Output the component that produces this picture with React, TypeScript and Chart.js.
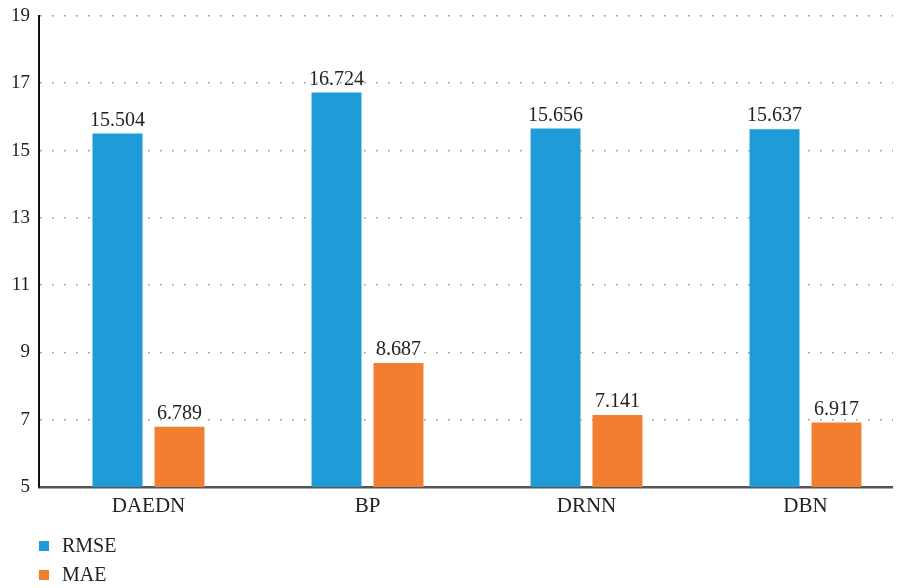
import React, { useEffect, useRef } from "react";
import { Chart, registerables } from "chart.js";

Chart.register(...registerables);

const categories = ["DAEDN", "BP", "DRNN", "DBN"];
const rmseValues = [15.504, 16.724, 15.656, 15.637];
const maeValues = [6.789, 8.687, 7.141, 6.917];
const seriesNames = ["RMSE", "MAE"];
const seriesColors = ["#1f9cd8", "#f27f2f"];
const yTicks = [5, 7, 9, 11, 13, 15, 17, 19];

const FONT = "'Liberation Serif', 'Times New Roman', serif";

const valueLabels = {
  id: "valueLabels",
  afterDatasetsDraw(chart: any) {
    const ctx = chart.ctx;
    ctx.save();
    ctx.font = `20px ${FONT}`;
    ctx.fillStyle = "#222";
    ctx.textAlign = "center";
    ctx.textBaseline = "alphabetic";
    chart.data.datasets.forEach((ds: any, i: number) => {
      const meta = chart.getDatasetMeta(i);
      meta.data.forEach((bar: any, j: number) => {
        ctx.fillText(ds.data[j].toFixed(3), bar.x, bar.y - 8);
      });
    });
    ctx.restore();
  },
};

const verticalLegend = {
  id: "verticalLegend",
  afterDraw(chart: any) {
    const ctx = chart.ctx;
    const left = chart.chartArea.left;
    const base = chart.chartArea.bottom + 59;
    ctx.save();
    ctx.font = `20px ${FONT}`;
    ctx.textBaseline = "middle";
    ctx.textAlign = "left";
    chart.data.datasets.forEach((ds: any, i: number) => {
      const cy = base + i * 29;
      ctx.fillStyle = ds.backgroundColor;
      ctx.fillRect(left, cy - 5, 10, 10);
      ctx.fillStyle = "#222";
      ctx.fillText(ds.label, left + 23, cy + 1);
    });
    ctx.restore();
  },
};

export default function App() {
  const ref = useRef<HTMLCanvasElement>(null);
  useEffect(() => {
    if (!ref.current) return;
    const chart = new Chart(ref.current, {
      type: "bar",
      data: {
        labels: categories,
        datasets: [
          { label: seriesNames[0], data: rmseValues, backgroundColor: seriesColors[0] },
          { label: seriesNames[1], data: maeValues, backgroundColor: seriesColors[1] },
        ],
      },
      options: {
        animation: false,
        responsive: false,
        maintainAspectRatio: false,
        layout: { padding: { top: 8, bottom: 0, left: 0, right: 0 } },
        datasets: {
          bar: { categoryPercentage: 0.566, barPercentage: 0.806 },
        },
        plugins: {
          legend: { display: false },
          tooltip: { enabled: false },
        },
        scales: {
          x: {
            grid: { display: false, drawTicks: false },
            border: { display: true, color: "#555", width: 2.5 },
            ticks: { color: "#222", font: { family: FONT, size: 21 }, padding: 7 },
            afterFit: (s: any) => {
              s.height = 101;
            },
          },
          y: {
            min: 5,
            max: 19,
            afterBuildTicks: (s: any) => {
              s.ticks = yTicks.map((v) => ({ value: v }));
            },
            grid: {
              color: "#9a9a9a",
              lineWidth: 1.6,
              drawTicks: false,
            },
            border: { display: true, color: "#111", width: 2, dash: [1.6, 10.4] },
            ticks: { color: "#222", font: { family: FONT, size: 19 }, padding: 9 },
            afterFit: (s: any) => {
              s.width = 31;
              s.paddingTop = 0;
              s.paddingBottom = 0;
            },
          },
        },
      },
      plugins: [valueLabels, verticalLegend],
    } as any);
    return () => chart.destroy();
  }, []);
  return (
    <div style={{ width: 893, height: 580, overflow: "hidden" }}>
      <canvas ref={ref} width={907} height={580} style={{ display: "block", width: 907, height: 580 }} />
    </div>
  );
}
